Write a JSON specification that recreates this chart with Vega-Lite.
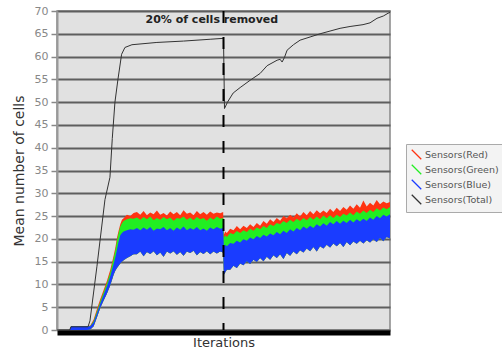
{
  "$schema": "https://vega.github.io/schema/vega-lite/v6.json",
  "width": 333,
  "height": 319,
  "autosize": "none",
  "padding": {"left": 57, "top": 11, "right": 112, "bottom": 24},
  "background": "white",
  "datasets": {
    "bands": [
      {"x": 0, "r": 0, "g": 0, "b": 0, "l": 0},
      {"x": 38, "r": 0, "g": 0, "b": 0, "l": 0},
      {"x": 42, "r": 0.8, "g": 0.8, "b": 0.8, "l": 0},
      {"x": 90, "r": 0.8, "g": 0.8, "b": 0.8, "l": 0},
      {"x": 100, "r": 1.0, "g": 0.9, "b": 0.8, "l": 0.1},
      {"x": 110, "r": 2.3, "g": 2.0, "b": 1.7, "l": 0.8},
      {"x": 120, "r": 4.6, "g": 4.1, "b": 3.7, "l": 2.8},
      {"x": 130, "r": 6.8, "g": 6.3, "b": 5.8, "l": 4.9},
      {"x": 140, "r": 8.8, "g": 8.3, "b": 7.7, "l": 6.5},
      {"x": 150, "r": 10.8, "g": 10.3, "b": 9.6, "l": 8.0},
      {"x": 160, "r": 13.2, "g": 12.6, "b": 11.8, "l": 9.8},
      {"x": 170, "r": 16.3, "g": 15.8, "b": 14.5, "l": 12.1},
      {"x": 175, "r": 18.0, "g": 17.4, "b": 15.9, "l": 13.0},
      {"x": 180, "r": 20.2, "g": 19.6, "b": 17.6, "l": 13.6},
      {"x": 185, "r": 21.8, "g": 21.3, "b": 19.4, "l": 14.1},
      {"x": 190, "r": 23.2, "g": 22.7, "b": 20.8, "l": 14.6},
      {"x": 195, "r": 24.2, "g": 23.4, "b": 21.3, "l": 15.0},
      {"x": 200, "r": 24.5, "g": 23.9, "b": 21.6, "l": 15.3},
      {"x": 210, "r": 25.3, "g": 24.3, "b": 21.9, "l": 15.8},
      {"x": 220, "r": 25.0, "g": 24.5, "b": 22.1, "l": 16.2},
      {"x": 230, "r": 25.7, "g": 24.4, "b": 22.0, "l": 16.6},
      {"x": 240, "r": 25.9, "g": 24.7, "b": 22.4, "l": 16.6},
      {"x": 250, "r": 25.3, "g": 24.2, "b": 21.9, "l": 17.2},
      {"x": 260, "r": 26.1, "g": 24.8, "b": 22.5, "l": 16.2},
      {"x": 270, "r": 25.2, "g": 24.3, "b": 22.0, "l": 17.1},
      {"x": 280, "r": 25.8, "g": 24.9, "b": 22.6, "l": 16.7},
      {"x": 290, "r": 25.4, "g": 24.1, "b": 21.8, "l": 17.3},
      {"x": 300, "r": 26.2, "g": 24.6, "b": 22.3, "l": 16.4},
      {"x": 310, "r": 25.3, "g": 24.2, "b": 22.1, "l": 17.0},
      {"x": 320, "r": 25.7, "g": 24.8, "b": 22.6, "l": 16.1},
      {"x": 330, "r": 25.1, "g": 24.3, "b": 21.9, "l": 17.2},
      {"x": 340, "r": 26.0, "g": 24.7, "b": 22.4, "l": 16.8},
      {"x": 350, "r": 25.4, "g": 24.0, "b": 21.8, "l": 17.3},
      {"x": 360, "r": 25.9, "g": 24.6, "b": 22.5, "l": 16.5},
      {"x": 370, "r": 25.2, "g": 24.4, "b": 22.0, "l": 17.1},
      {"x": 380, "r": 26.3, "g": 24.9, "b": 22.7, "l": 16.3},
      {"x": 390, "r": 25.5, "g": 24.2, "b": 21.9, "l": 17.2},
      {"x": 400, "r": 25.8, "g": 24.7, "b": 22.4, "l": 16.9},
      {"x": 410, "r": 25.2, "g": 24.1, "b": 22.0, "l": 17.4},
      {"x": 420, "r": 26.1, "g": 24.8, "b": 22.6, "l": 16.4},
      {"x": 430, "r": 25.4, "g": 24.3, "b": 21.9, "l": 17.1},
      {"x": 440, "r": 25.9, "g": 24.6, "b": 22.3, "l": 16.7},
      {"x": 450, "r": 25.3, "g": 24.0, "b": 21.8, "l": 17.3},
      {"x": 460, "r": 26.0, "g": 24.7, "b": 22.5, "l": 16.6},
      {"x": 470, "r": 25.5, "g": 24.2, "b": 22.1, "l": 17.2},
      {"x": 480, "r": 25.8, "g": 24.9, "b": 22.6, "l": 16.8},
      {"x": 490, "r": 25.6, "g": 24.4, "b": 22.2, "l": 17.2},
      {"x": 499, "r": 25.9, "g": 24.6, "b": 22.4, "l": 17.0},
      {"x": 501, "r": 20.9, "g": 20.2, "b": 18.3, "l": 12.1},
      {"x": 505, "r": 21.6, "g": 20.8, "b": 18.7, "l": 12.6},
      {"x": 510, "r": 21.3, "g": 20.4, "b": 18.4, "l": 13.2},
      {"x": 520, "r": 22.2, "g": 21.3, "b": 19.1, "l": 13.2},
      {"x": 530, "r": 21.9, "g": 21.0, "b": 18.9, "l": 14.1},
      {"x": 540, "r": 22.8, "g": 21.7, "b": 19.6, "l": 13.6},
      {"x": 550, "r": 22.1, "g": 21.3, "b": 19.2, "l": 14.6},
      {"x": 560, "r": 22.9, "g": 21.9, "b": 19.9, "l": 14.2},
      {"x": 570, "r": 22.4, "g": 21.5, "b": 19.6, "l": 15.1},
      {"x": 580, "r": 23.2, "g": 22.2, "b": 20.3, "l": 14.5},
      {"x": 590, "r": 22.6, "g": 21.8, "b": 19.9, "l": 15.4},
      {"x": 600, "r": 23.5, "g": 22.5, "b": 20.6, "l": 14.9},
      {"x": 610, "r": 22.9, "g": 22.1, "b": 20.2, "l": 15.8},
      {"x": 620, "r": 23.9, "g": 22.8, "b": 20.9, "l": 15.1},
      {"x": 630, "r": 23.3, "g": 22.4, "b": 20.5, "l": 16.1},
      {"x": 640, "r": 24.3, "g": 23.2, "b": 21.2, "l": 15.4},
      {"x": 650, "r": 23.7, "g": 22.8, "b": 20.8, "l": 16.4},
      {"x": 660, "r": 24.6, "g": 23.5, "b": 21.5, "l": 15.8},
      {"x": 670, "r": 24.0, "g": 23.2, "b": 21.0, "l": 16.6},
      {"x": 680, "r": 25.0, "g": 23.9, "b": 21.8, "l": 15.6},
      {"x": 690, "r": 24.5, "g": 23.5, "b": 21.3, "l": 16.9},
      {"x": 700, "r": 25.3, "g": 24.2, "b": 22.1, "l": 16.3},
      {"x": 710, "r": 24.7, "g": 23.7, "b": 21.6, "l": 17.2},
      {"x": 720, "r": 25.6, "g": 24.4, "b": 22.4, "l": 16.6},
      {"x": 730, "r": 24.9, "g": 23.9, "b": 21.9, "l": 17.5},
      {"x": 740, "r": 25.9, "g": 24.6, "b": 22.7, "l": 17.0},
      {"x": 750, "r": 25.2, "g": 24.1, "b": 22.2, "l": 17.9},
      {"x": 760, "r": 26.1, "g": 24.8, "b": 22.9, "l": 17.3},
      {"x": 770, "r": 25.4, "g": 24.2, "b": 22.4, "l": 18.2},
      {"x": 780, "r": 26.3, "g": 24.9, "b": 23.2, "l": 17.2},
      {"x": 790, "r": 25.6, "g": 24.3, "b": 22.7, "l": 18.4},
      {"x": 800, "r": 26.2, "g": 25.1, "b": 23.4, "l": 17.9},
      {"x": 810, "r": 25.7, "g": 24.5, "b": 22.9, "l": 18.7},
      {"x": 820, "r": 26.6, "g": 25.2, "b": 23.7, "l": 18.1},
      {"x": 830, "r": 25.9, "g": 24.6, "b": 23.2, "l": 19.0},
      {"x": 840, "r": 26.8, "g": 25.3, "b": 23.9, "l": 18.4},
      {"x": 850, "r": 26.1, "g": 24.8, "b": 23.3, "l": 19.1},
      {"x": 860, "r": 27.0, "g": 25.5, "b": 24.0, "l": 18.2},
      {"x": 870, "r": 26.4, "g": 25.1, "b": 23.5, "l": 19.3},
      {"x": 880, "r": 27.3, "g": 25.8, "b": 24.2, "l": 18.6},
      {"x": 890, "r": 26.6, "g": 25.2, "b": 23.6, "l": 19.4},
      {"x": 900, "r": 27.6, "g": 26.0, "b": 24.3, "l": 18.9},
      {"x": 910, "r": 26.8, "g": 25.5, "b": 23.8, "l": 19.6},
      {"x": 920, "r": 28.4, "g": 26.2, "b": 24.4, "l": 19.0},
      {"x": 930, "r": 27.1, "g": 25.7, "b": 23.9, "l": 19.7},
      {"x": 940, "r": 27.9, "g": 26.4, "b": 24.7, "l": 19.2},
      {"x": 950, "r": 27.3, "g": 25.9, "b": 24.2, "l": 19.9},
      {"x": 960, "r": 28.5, "g": 26.7, "b": 25.0, "l": 19.3},
      {"x": 970, "r": 27.6, "g": 26.2, "b": 24.5, "l": 20.2},
      {"x": 980, "r": 28.2, "g": 26.9, "b": 25.3, "l": 19.5},
      {"x": 990, "r": 27.8, "g": 26.5, "b": 24.9, "l": 20.4},
      {"x": 1000, "r": 28.1, "g": 27.0, "b": 25.4, "l": 20.1}
    ],
    "total": [
      {"x": 0, "t": 0}, {"x": 38, "t": 0}, {"x": 42, "t": 0.7}, {"x": 93, "t": 0.7},
      {"x": 99, "t": 2}, {"x": 120, "t": 14}, {"x": 144, "t": 28.6}, {"x": 159, "t": 33.5},
      {"x": 166, "t": 42}, {"x": 174, "t": 50}, {"x": 183, "t": 55}, {"x": 194, "t": 60.5},
      {"x": 204, "t": 62}, {"x": 225, "t": 62.6}, {"x": 300, "t": 63.1}, {"x": 380, "t": 63.4},
      {"x": 460, "t": 63.8}, {"x": 500, "t": 64}, {"x": 503, "t": 48.6}, {"x": 512, "t": 50},
      {"x": 529, "t": 52}, {"x": 550, "t": 53.2}, {"x": 580, "t": 54.8}, {"x": 610, "t": 56.3},
      {"x": 631, "t": 58}, {"x": 661, "t": 59.2}, {"x": 670, "t": 59.4}, {"x": 676, "t": 58.8},
      {"x": 683, "t": 59.8}, {"x": 691, "t": 61.4}, {"x": 710, "t": 62.6}, {"x": 730, "t": 63.6},
      {"x": 760, "t": 64.3}, {"x": 790, "t": 65}, {"x": 820, "t": 65.6}, {"x": 850, "t": 66.2},
      {"x": 880, "t": 66.6}, {"x": 919, "t": 67}, {"x": 940, "t": 67.4}, {"x": 961, "t": 68.4},
      {"x": 980, "t": 68.9}, {"x": 994, "t": 69.5}, {"x": 1000, "t": 69.7}
    ]
  },
  "encoding": {
    "x": {"field": "x", "type": "quantitative", "scale": {"domain": [0, 1000], "nice": false, "zero": false}, "title": "Iterations"}
  },
  "layer": [
    {
      "data": {"name": "bands"},
      "mark": {"type": "area", "opacity": 1},
      "encoding": {
        "y": {"field": "r", "type": "quantitative", "scale": {"domain": [0, 70], "nice": false}, "title": "Mean number of cells"},
        "y2": {"field": "l"},
        "color": {
          "datum": "Sensors(Red)", "type": "nominal",
          "scale": {"domain": ["Sensors(Red)", "Sensors(Green)", "Sensors(Blue)", "Sensors(Total)"], "range": ["#ff3311", "#22ee22", "#1a3cff", "#333333"]},
          "legend": {
            "title": null, "orient": "none", "legendX": 349, "legendY": 133,
            "symbolType": "M-1,-1L1,1", "symbolSize": 90, "symbolStrokeWidth": 1.3,
            "labelFontSize": 9.5, "labelColor": "#555", "labelFont": "DejaVu Sans", "labelOffset": 3,
            "fillColor": "#f3f3f3", "strokeColor": "#aaaaaa", "padding": 5, "rowPadding": 0,
            "encode": {"symbols": {"update": {"stroke": {"scale": "color", "field": "value"}, "fill": {"value": "transparent"}}}}
          }
        }
      }
    },
    {
      "data": {"name": "bands"},
      "mark": {"type": "area", "opacity": 1},
      "encoding": {
        "y": {"field": "g", "type": "quantitative", "title": "Mean number of cells"},
        "y2": {"field": "l"},
        "color": {"datum": "Sensors(Green)", "type": "nominal"}
      }
    },
    {
      "data": {"name": "bands"},
      "mark": {"type": "area", "opacity": 1},
      "encoding": {
        "y": {"field": "b", "type": "quantitative", "title": "Mean number of cells"},
        "y2": {"field": "l"},
        "color": {"datum": "Sensors(Blue)", "type": "nominal"}
      }
    },
    {
      "data": {"name": "total"},
      "mark": {"type": "line", "strokeWidth": 1},
      "encoding": {
        "y": {"field": "t", "type": "quantitative", "title": "Mean number of cells"},
        "color": {"datum": "Sensors(Total)", "type": "nominal"}
      }
    },
    {
      "data": {"values": [{"x": 500}]},
      "mark": {"type": "rule", "color": "#000", "strokeWidth": 2, "strokeDash": [12, 14]},
      "encoding": {}
    },
    {
      "data": {"values": [{"x": 465, "y": 68, "label": "20%  of cells removed"}]},
      "mark": {"type": "text", "font": "DejaVu Sans", "fontWeight": "bold", "fontSize": 11, "color": "#222", "align": "center", "baseline": "middle"},
      "encoding": {
        "y": {"field": "y", "type": "quantitative", "title": "Mean number of cells"},
        "text": {"field": "label"}
      }
    }
  ],
  "config": {
    "view": {"fill": "#e1e1e1", "stroke": "#888888", "strokeWidth": 1.5},
    "axisY": {
      "tickCount": 14, "domainColor": "#999999", "domainWidth": 2, "tickColor": "#888888", "tickSize": 6, "tickWidth": 1.5,
      "labelColor": "#888888", "labelFontSize": 11, "labelFont": "DejaVu Sans", "labelPadding": 3,
      "grid": true, "gridColor": "#5e5e5e", "gridWidth": 1.8,
      "titleFont": "DejaVu Sans", "titleFontSize": 14, "titleFontWeight": "normal", "titleColor": "#333333", "titlePadding": 8
    },
    "axisX": {
      "labels": false, "ticks": false, "grid": false, "domainColor": "#000000", "domainWidth": 5, "offset": 2.5,
      "titleFont": "DejaVu Sans", "titleFontSize": 13, "titleFontWeight": "normal", "titleColor": "#333333", "titlePadding": 4
    }
  }
}
